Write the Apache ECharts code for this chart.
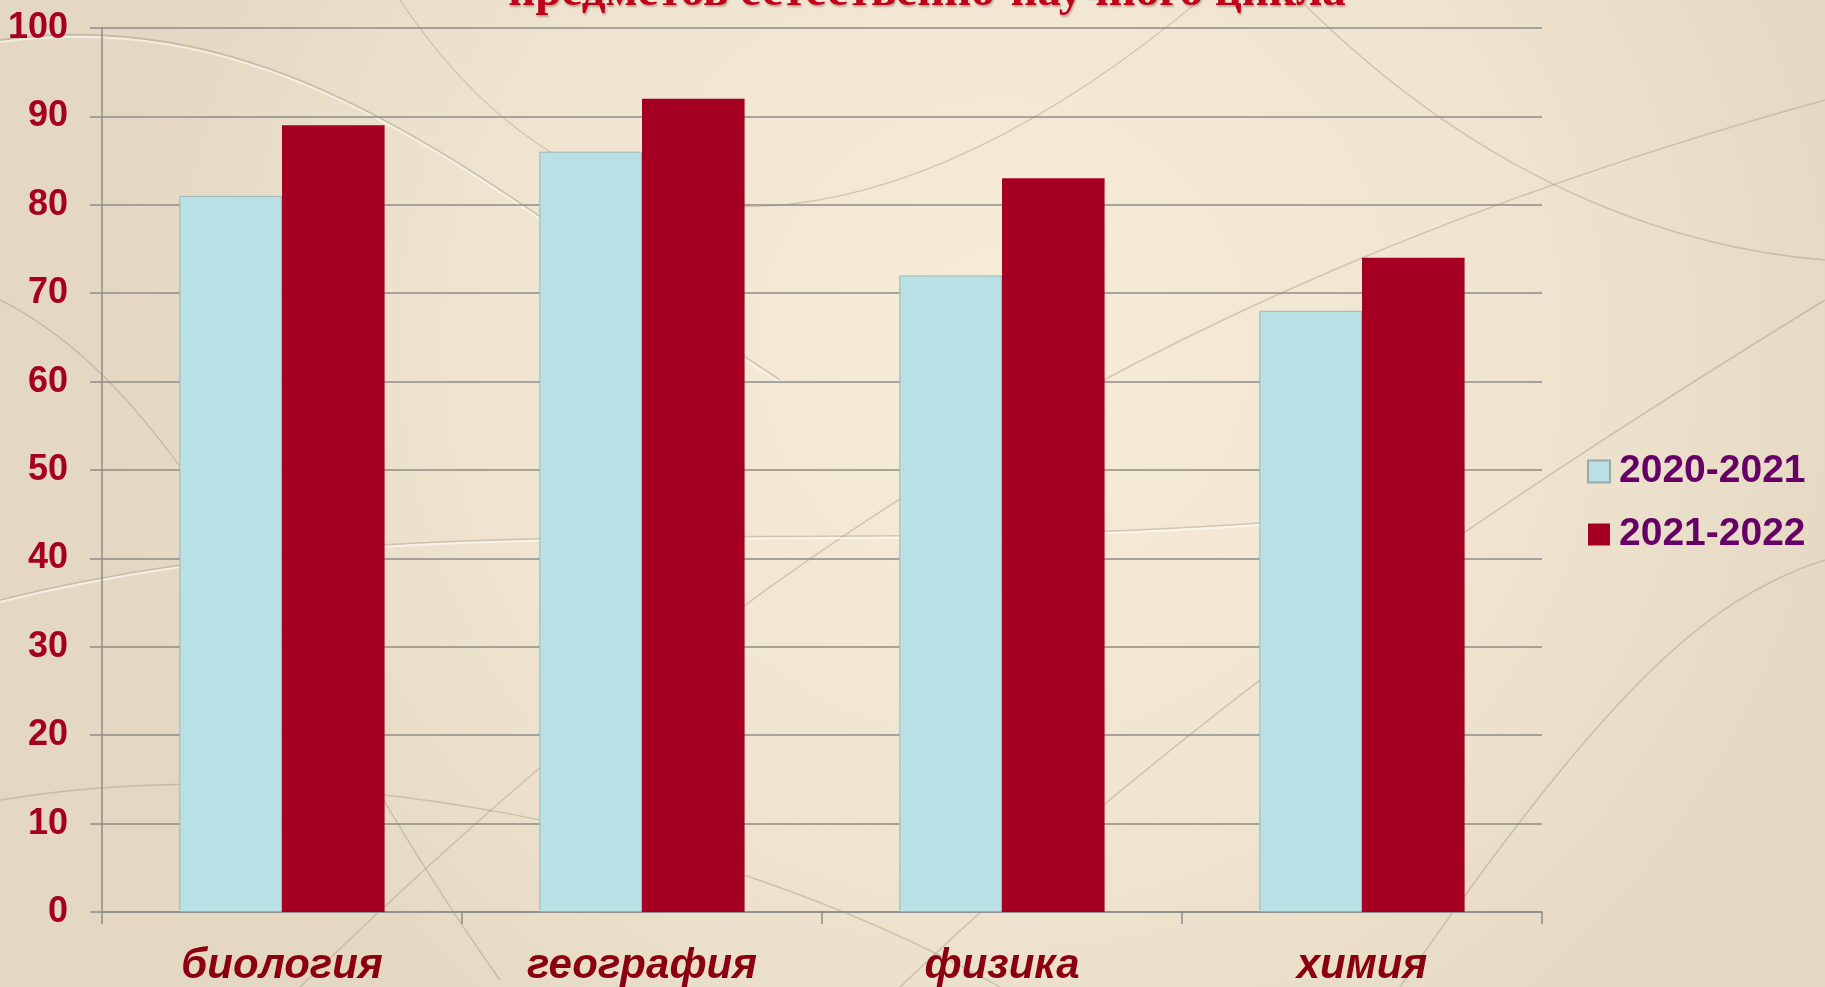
<!DOCTYPE html>
<html><head><meta charset="utf-8">
<script src="https://cdn.jsdelivr.net/npm/echarts@6/dist/echarts.min.js"></script>
<style>html,body{margin:0;padding:0;}#c{width:1825px;height:987px;}</style>
</head><body><div id="c"></div>
<script>
const categories = ['биология', 'география', 'физика', 'химия'];
const series2021 = [81, 86, 72, 68];
const series2022 = [89, 92, 83, 74];
const seriesNames = ['2020-2021', '2021-2022'];
const titleText = 'предметов естественно-научного цикла';

const chart = echarts.init(document.getElementById('c'));
function curve(x1,y1,cx1,cy1,cx2,cy2,x2,y2,c,w){
  return {type:'bezierCurve', silent:true, z:-10,
    shape:{x1,y1,cpx1:cx1,cpy1:cy1,cpx2:cx2,cpy2:cy2,x2,y2},
    style:{stroke:c,lineWidth:w,fill:null}};
}
const dark='rgba(150,135,110,0.35)', lite='rgba(255,255,255,0.55)';
chart.setOption({
  backgroundColor: {type:'radial', x:0.55, y:0.35, r:0.9,
    colorStops:[{offset:0,color:'#F6ECD8'},{offset:0.6,color:'#EFE4CF'},{offset:1,color:'#E4D8C2'}]},
  graphic: [
    curve(0,40,300,0,500,200,780,380,dark,2),
    curve(0,42,300,2,500,202,780,382,lite,2),
    curve(300,987,700,600,1100,300,1825,100,dark,1.5),
    curve(900,987,1200,700,1500,500,1825,300,dark,1.5),
    curve(0,600,400,500,800,560,1300,520,dark,1.5),
    curve(0,602,400,502,800,562,1300,522,lite,2),
    curve(500,980,300,700,200,400,0,300,dark,1.5),
    curve(1300,0,1500,200,1700,250,1825,260,dark,1.5),
    curve(400,0,600,300,900,250,1200,0,dark,1.2),
    curve(0,800,300,750,700,820,1000,987,dark,1.5),
    curve(1400,987,1600,700,1700,600,1825,560,dark,1.5),
    {type:'text', x:927, y:-7, z:10, silent:true,
     style:{text:titleText, align:'center', verticalAlign:'middle',
       font:'bold 47px "Liberation Serif"', fill:'#C0001A',
       textShadowColor:'rgba(90,40,30,0.35)', textShadowBlur:2, textShadowOffsetX:1, textShadowOffsetY:2}}
  ],
  legend: {
    orient:'vertical', left:1587, top:452, padding:0, itemWidth:22, itemHeight:22, itemGap:24,
    icon:'rect',
    textStyle:{fontFamily:'Liberation Sans', fontWeight:'bold', fontSize:39, color:'#660066', padding:[0,0,0,4]}
  },
  grid: {left:102, right:283, top:28, bottom:73},
  xAxis: {
    type:'category', data:categories,
    axisLine:{show:true, lineStyle:{color:'#8c8c8c', width:1.5}},
    axisTick:{show:true, length:12, lineStyle:{color:'#8c8c8c', width:1.5}},
    axisLabel:{fontFamily:'Liberation Sans', fontWeight:'bold', fontStyle:'italic', fontSize:42, color:'#8A0010', margin:33}
  },
  yAxis: {
    type:'value', min:0, max:100, interval:10,
    axisLine:{show:true, lineStyle:{color:'#8c8c8c', width:1.5}},
    axisTick:{show:true, length:12, lineStyle:{color:'#8c8c8c', width:1.5}},
    splitLine:{lineStyle:{color:'#8c8c8c', width:1.5}},
    axisLabel:{fontFamily:'Liberation Sans', fontWeight:'bold', fontSize:36, color:'#A50021', margin:34}
  },
  series: [
    {name:seriesNames[0], type:'bar', data:series2021, barGap:'0%', barCategoryGap:'43%',
     itemStyle:{color:'#B8E0E5', borderColor:'#98AAAD', borderWidth:0.8}},
    {name:seriesNames[1], type:'bar', data:series2022,
     itemStyle:{color:'#A50021'}}
  ]
});
</script></body></html>
